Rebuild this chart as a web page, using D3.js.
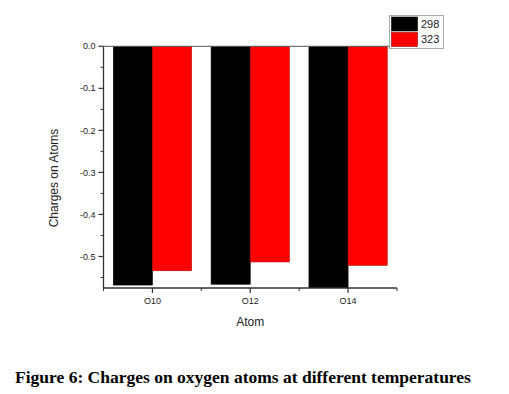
<!DOCTYPE html>
<html>
<head>
<meta charset="utf-8">
<script src="https://cdn.jsdelivr.net/npm/d3@7"></script>
<style>
  body { margin: 0; background: #fff; }
  svg text { font-family: Arial, "Liberation Sans", sans-serif; }
</style>
</head>
<body>
<div id="chart"></div>
<script>
// data
var atoms = ["O10", "O12", "O14"];
var series = ["298", "323"];
var charges298 = [-0.568, -0.566, -0.58];
var charges323 = [-0.534, -0.513, -0.521];
var colors = ["#000000", "#ff0000"];
var yTicks = [0.0, -0.1, -0.2, -0.3, -0.4, -0.5];

var svg = d3.select("#chart").append("svg")
    .attr("width", 509)
    .attr("height", 394);

var plotLeft = 103.5, plotRight = 397, plotTop = 46.3, plotBottom = 288;

var x = d3.scaleLinear().domain([0.5, 3.5]).range([plotLeft, plotRight]);
var y = d3.scaleLinear().domain([0, -0.575]).range([plotTop, plotBottom]);

var values = [charges298, charges323];

// bars, clipped to the plot frame
svg.append("clipPath").attr("id", "plotclip")
    .append("rect").attr("x", plotLeft).attr("y", plotTop)
    .attr("width", plotRight - plotLeft).attr("height", plotBottom - plotTop);

var barW = 0.4;
series.forEach(function(s, si) {
    svg.append("g").attr("clip-path", "url(#plotclip)")
        .selectAll("rect")
        .data(atoms)
        .enter()
        .append("rect")
        .attr("x", function(d, i) { return x(i + 1 - barW + si * barW); })
        .attr("y", y(0))
        .attr("width", x(barW) - x(0))
        .attr("height", function(d, i) { return y(values[si][i]) - y(0); })
        .attr("fill", colors[si])
        .attr("stroke", si == 1 ? "#b00000" : "#000")
        .attr("stroke-width", 0.6);
});

// top line
svg.append("line")
    .attr("x1", plotLeft).attr("x2", plotRight)
    .attr("y1", plotTop).attr("y2", plotTop)
    .attr("stroke", "#555").attr("stroke-width", 1);

// y axis
var yAxis = svg.append("g").attr("transform", "translate(" + plotLeft + ",0)");
yAxis.append("line").attr("x1", 0).attr("x2", 0).attr("y1", plotTop).attr("y2", plotBottom)
    .attr("stroke", "#333").attr("stroke-width", 1.3);
yTicks.forEach(function(t) {
    yAxis.append("line").attr("x1", -5).attr("x2", 0).attr("y1", y(t)).attr("y2", y(t))
        .attr("stroke", "#333").attr("stroke-width", 1.2);
    yAxis.append("text").attr("x", -8).attr("y", y(t)).attr("dy", "0.35em")
        .attr("text-anchor", "end").attr("font-size", 9).attr("fill", "#222")
        .text(t.toFixed(1));
    if (y(t - 0.05) < plotBottom) {
        yAxis.append("line").attr("x1", -3).attr("x2", 0).attr("y1", y(t - 0.05)).attr("y2", y(t - 0.05))
            .attr("stroke", "#333").attr("stroke-width", 1);
    }
});

// x axis
var xAxis = svg.append("g");
xAxis.append("line").attr("x1", plotLeft).attr("x2", plotRight).attr("y1", plotBottom).attr("y2", plotBottom)
    .attr("stroke", "#333").attr("stroke-width", 1.3);
atoms.forEach(function(a, i) {
    xAxis.append("line").attr("x1", x(i + 1)).attr("x2", x(i + 1))
        .attr("y1", plotBottom).attr("y2", plotBottom + 5)
        .attr("stroke", "#333").attr("stroke-width", 1.2);
    xAxis.append("text").attr("x", x(i + 1)).attr("y", plotBottom + 16)
        .attr("text-anchor", "middle").attr("font-size", 9).attr("fill", "#222")
        .text(a);
});
[0.5, 1.5, 2.5, 3.5].forEach(function(m) {
    xAxis.append("line").attr("x1", x(m)).attr("x2", x(m))
        .attr("y1", plotBottom).attr("y2", plotBottom + 3)
        .attr("stroke", "#333").attr("stroke-width", 1);
});

// axis titles
svg.append("text").attr("x", x(2)).attr("y", 326)
    .attr("text-anchor", "middle").attr("font-size", 12).attr("fill", "#222")
    .text("Atom");
svg.append("text")
    .attr("transform", "translate(58,178) rotate(-90)")
    .attr("text-anchor", "middle").attr("font-size", 12).attr("fill", "#222")
    .text("Charges on Atoms");

// legend
var lg = svg.append("g");
lg.append("rect").attr("x", 389.5).attr("y", 15.5).attr("width", 54).attr("height", 33)
    .attr("fill", "#fff").attr("stroke", "#aaa").attr("stroke-width", 1);
series.forEach(function(s, i) {
    lg.append("rect").attr("x", 391.5).attr("y", 17 + i * 15.5).attr("width", 26).attr("height", 14)
        .attr("fill", colors[i]).attr("stroke", i == 1 ? "#900" : "#000").attr("stroke-width", 0.6);
    lg.append("text").attr("x", 421).attr("y", 24 + i * 15.5).attr("dy", "0.35em")
        .attr("font-size", 11).attr("fill", "#222").text(s);
});

// caption
svg.append("text").attr("x", 15).attr("y", 383)
    .style("font-family", "'Liberation Serif', 'Times New Roman', serif")
    .attr("font-weight", "bold").attr("font-size", 17.5).attr("fill", "#000")
    .text("Figure 6: Charges on oxygen atoms at different temperatures");
</script>
</body>
</html>
